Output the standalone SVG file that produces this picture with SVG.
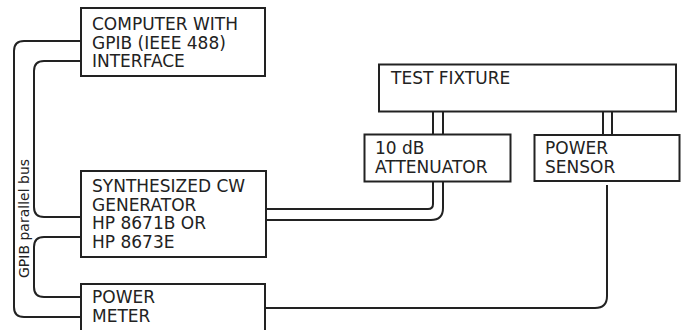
<svg xmlns="http://www.w3.org/2000/svg" width="684" height="330" viewBox="0 0 684 330">
<style>
.box{fill:#fff;stroke:#222;stroke-width:2}
.t{font-family:"DejaVu Sans",Verdana,sans-serif;font-size:17px;fill:#222}
.w{fill:none;stroke:#222;stroke-width:2}
.lbl{font-family:"DejaVu Sans",sans-serif;font-size:14px;fill:#222}
</style>
<rect width="684" height="330" fill="#fff"/>
<g id="connectors">
<path class="w" d="M81 41 H24 Q14 41 14 51 V307 Q14 317 24 317 H81"/>
<path class="w" d="M81 61 H44 Q34 61 34 71 V207 Q34 217 44 217 H81"/>
<path class="w" d="M81 237 H44 Q34 237 34 247 V287 Q34 297 44 297 H81"/>
<path class="w" d="M433 112 V134"/>
<path class="w" d="M443 112 V134"/>
<path class="w" d="M603 112 V135"/>
<path class="w" d="M612 112 V135"/>
<path class="w" d="M433 182 V204 Q433 209 428 209 H266"/>
<path class="w" d="M443 182 V208 Q443 220 431 220 H266"/>
<path class="w" d="M607 185 V296 Q607 308 595 308 H266"/>
<text class="lbl" transform="translate(29,278) rotate(-90)">GPIB parallel bus</text>
</g>
<g id="computer">
<rect class="box" x="81" y="8" width="184" height="68"/>
<text class="t" x="92" y="30">COMPUTER WITH</text>
<text class="t" x="92" y="48.5">GPIB (IEEE 488)</text>
<text class="t" x="92" y="67">INTERFACE</text>
</g>
<g id="generator">
<rect class="box" x="81" y="171" width="185" height="86"/>
<text class="t" x="92" y="192">SYNTHESIZED CW</text>
<text class="t" x="92" y="210.5">GENERATOR</text>
<text class="t" x="92" y="229">HP 8671B OR</text>
<text class="t" x="92" y="247.5">HP 8673E</text>
</g>
<g id="powermeter">
<rect class="box" x="81" y="284" width="184" height="52"/>
<text class="t" x="92" y="303">POWER</text>
<text class="t" x="92" y="322">METER</text>
</g>
<g id="fixture">
<rect class="box" x="379" y="64.5" width="297" height="47"/>
<text class="t" x="391" y="84">TEST FIXTURE</text>
</g>
<g id="attenuator">
<rect class="box" x="364.5" y="134.5" width="146" height="47"/>
<text class="t" x="375" y="154">10 dB</text>
<text class="t" x="375" y="173">ATTENUATOR</text>
</g>
<g id="sensor">
<rect class="box" x="534.5" y="135" width="145" height="46"/>
<text class="t" x="545" y="154">POWER</text>
<text class="t" x="545" y="173">SENSOR</text>
</g>
</svg>
